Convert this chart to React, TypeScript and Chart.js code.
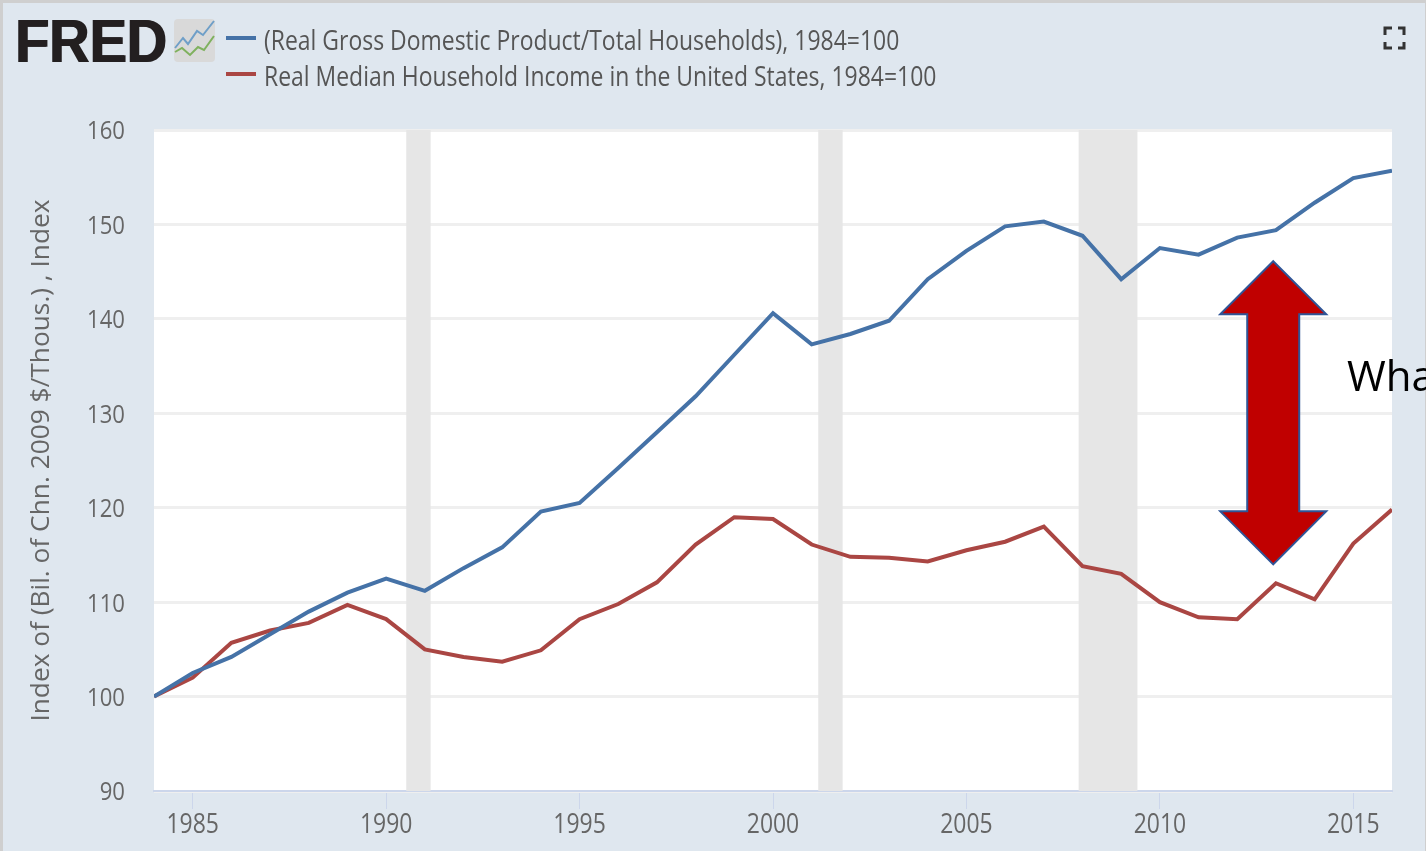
import React, { useEffect, useRef } from "react";
import { Chart, registerables } from "chart.js";

Chart.register(...registerables);

const years = [1984,1985,1986,1987,1988,1989,1990,1991,1992,1993,1994,1995,1996,1997,1998,1999,2000,2001,2002,2003,2004,2005,2006,2007,2008,2009,2010,2011,2012,2013,2014,2015,2016];
const gdpPerHousehold = [100,102.5,104.2,106.6,109,111,112.5,111.2,113.6,115.8,119.6,120.5,124.2,128,131.8,136.2,140.6,137.3,138.4,139.8,144.2,147.2,149.8,150.3,148.8,144.2,147.5,146.8,148.6,149.4,152.3,154.9,155.7];
const medianIncome = [100,102,105.7,107,107.8,109.7,108.2,105,104.2,103.7,104.9,108.2,109.8,112.1,116.1,119,118.8,116.1,114.8,114.7,114.3,115.5,116.4,118,113.8,113,110,108.4,108.2,112,110.3,116.2,119.8];
const recessions = [[1990.52,1991.15],[2001.17,2001.8],[2007.9,2009.42]];
const xTicks = [1985,1990,1995,2000,2005,2010,2015];
const seriesNames = ["(Real Gross Domestic Product/Total Households), 1984=100","Real Median Household Income in the United States, 1984=100"];
const seriesColors = ["#4572a7","#aa4643"];
const yAxisTitle = "Index of (Bil. of Chn. 2009 $/Thous.) , Index";
const arrowSpan = { x: 2012.93, top: 146.1, bottom: 114.0 };
const FONT = '"Open Sans", sans-serif';

export default function App() {
  const ref = useRef<HTMLCanvasElement>(null);
  const overlay = useRef<HTMLCanvasElement>(null);
  useEffect(() => {
    document.body.style.margin = "0";
    document.body.style.overflow = "hidden";
    const canvas = ref.current!;
    const base: any = canvas.getContext("2d")!;
    // The reference's horizontal text is narrower than any installed font: condense it about its anchor.
    let squeeze = 0.85;
    let lift = 2;
    const rawFill = base.fillText.bind(base);
    base.fillText = (t: string, x: number, y: number) => {
      const m = base.getTransform();
      if (Math.abs(m.b) > 0.01) {
        rawFill(t, x, y);
        return;
      }
      base.save();
      base.translate(x, y);
      base.scale(squeeze, 1);
      rawFill(t, 0, lift);
      base.restore();
    };
    const chrome = {
      id: "chrome",
      beforeDraw(chart: any) {
        const { ctx, chartArea: a, width, height } = chart;
        ctx.save();
        ctx.fillStyle = "#dfe7ef";
        ctx.fillRect(0, 0, width, height);
        ctx.fillStyle = "#cfcfcf";
        ctx.fillRect(0, 0, width, 3);
        ctx.fillRect(0, 0, 3, height);
        ctx.fillRect(width - 1, 0, 1, height);
        ctx.fillStyle = "#fff";
        ctx.fillRect(a.left, a.top, a.width, a.height);
        // logo
        ctx.fillStyle = "#231f20";
        ctx.font = 'bold 62px "Liberation Sans", sans-serif';
        ctx.textBaseline = "alphabetic";
        ctx.textAlign = "left";
        squeeze = 0.9;
        lift = 0;
        ctx.fillText("FRED", 14.5, 62);
        ctx.fillText("FRED", 16, 62);
        squeeze = 0.85;
        lift = 2;
        ctx.fillStyle = "#d9d9d9";
        ctx.beginPath();
        ctx.roundRect(174, 19, 41, 43, 4);
        ctx.fill();
        const spark = (pts: number[][], c: string) => {
          ctx.strokeStyle = c;
          ctx.lineWidth = 2;
          ctx.beginPath();
          pts.forEach((p, i) => (i ? ctx.lineTo(p[0], p[1]) : ctx.moveTo(p[0], p[1])));
          ctx.stroke();
        };
        spark([[175,48],[183,38],[188,44],[197,31],[203,35],[214,21]], "#6f9fc8");
        spark([[175,52],[182,48],[190,55],[198,47],[204,50],[214,36]], "#7fb15e");
        // legend
        ctx.font = `27px ${FONT}`;
        ctx.textBaseline = "middle";
        chart.data.datasets.forEach((d: any, i: number) => {
          const y = i === 0 ? 38 : 74;
          ctx.strokeStyle = d.borderColor;
          ctx.lineWidth = 4;
          ctx.beginPath();
          ctx.moveTo(226, y);
          ctx.lineTo(256, y);
          ctx.stroke();
          ctx.fillStyle = "#555";
          ctx.fillText(d.label, 264, y + 2);
        });
        // fullscreen icon
        ctx.strokeStyle = "#333";
        ctx.lineWidth = 3;
        const ic = [[1385,35,1385,28,1392,28],[1398,28,1404,28,1404,35],[1404,42,1404,48,1398,48],[1392,48,1385,48,1385,42]];
        ic.forEach((c) => {
          ctx.beginPath();
          ctx.moveTo(c[0], c[1]);
          ctx.lineTo(c[2], c[3]);
          ctx.lineTo(c[4], c[5]);
          ctx.stroke();
        });
        ctx.restore();
      },
      beforeDatasetsDraw(chart: any) {
        const { ctx, chartArea: a, scales } = chart;
        ctx.save();
        ctx.fillStyle = "#e6e6e6";
        recessions.forEach(([s, e]) => {
          const x0 = scales.x.getPixelForValue(s);
          const x1 = scales.x.getPixelForValue(e);
          ctx.fillRect(x0, a.top, x1 - x0, a.height);
        });
        ctx.restore();
      },
      afterDraw(chart: any) {
        const c = overlay.current;
        if (!c) return;
        const ctx = c.getContext("2d")!;
        ctx.clearRect(0, 0, c.width, c.height);
        const cx = chart.scales.x.getPixelForValue(arrowSpan.x);
        const top = chart.scales.y.getPixelForValue(arrowSpan.top);
        const bot = chart.scales.y.getPixelForValue(arrowSpan.bottom);
        const head = 53, hw = 53, sw = 26;
        ctx.beginPath();
        ctx.moveTo(cx, top);
        ctx.lineTo(cx + hw, top + head);
        ctx.lineTo(cx + sw, top + head);
        ctx.lineTo(cx + sw, bot - head);
        ctx.lineTo(cx + hw, bot - head);
        ctx.lineTo(cx, bot);
        ctx.lineTo(cx - hw, bot - head);
        ctx.lineTo(cx - sw, bot - head);
        ctx.lineTo(cx - sw, top + head);
        ctx.lineTo(cx - hw, top + head);
        ctx.closePath();
        ctx.fillStyle = "#c00000";
        ctx.fill();
        ctx.strokeStyle = "#2f5597";
        ctx.lineWidth = 2;
        ctx.stroke();
      },
    };
    const toPts = (v: number[]) => v.map((y, i) => ({ x: years[i], y }));
    const chart = new Chart(canvas, {
      type: "line",
      data: {
        datasets: [
          { label: seriesNames[0], data: toPts(gdpPerHousehold), borderColor: seriesColors[0], borderWidth: 4, pointRadius: 0, tension: 0 },
          { label: seriesNames[1], data: toPts(medianIncome), borderColor: seriesColors[1], borderWidth: 4, pointRadius: 0, tension: 0 },
        ],
      },
      options: {
        animation: false,
        responsive: false,
        layout: { padding: { top: 130, right: 34, left: 0, bottom: 0 } },
        plugins: { legend: { display: false }, tooltip: { enabled: false } },
        scales: {
          x: {
            type: "linear",
            min: 1984,
            max: 2016,
            afterBuildTicks(s: any) { s.ticks = xTicks.map((value) => ({ value })); },
            afterFit(s: any) { s.height = 60; },
            grid: { drawOnChartArea: false, drawTicks: true, tickLength: 18, tickColor: "#ccd6eb", tickWidth: 1 },
            border: { color: "#ccd6eb", width: 2 },
            ticks: { autoSkip: false, maxRotation: 0, padding: -2, color: "#666", font: { family: FONT, size: 27 }, callback: (v: any) => String(v) },
          },
          y: {
            min: 90,
            max: 160,
            afterFit(s: any) { s.width = 154; },
            grid: { color: "#efefef", lineWidth: 3, drawTicks: false },
            border: { display: false },
            ticks: { stepSize: 10, padding: 29, color: "#666", font: { family: FONT, size: 26 } },
            title: { display: true, text: yAxisTitle, color: "#666", font: { family: FONT, size: 26.3 }, padding: { top: 26, bottom: 0 } },
          },
        },
      },
      plugins: [chrome],
    } as any);
    return () => chart.destroy();
  }, []);
  return (
    <div style={{ position: "relative", width: 1426, height: 851, overflow: "hidden" }}>
      <canvas ref={ref} width={1426} height={851} style={{ position: "absolute", left: 0, top: 0, width: 1426, height: 851, filter: "blur(0.7px)" }} />
      <canvas ref={overlay} width={1426} height={851} style={{ position: "absolute", left: 0, top: 0 }} />
      <div style={{ position: "absolute", left: 1347, top: 347, font: '42px "Open Sans", sans-serif', color: "#000", whiteSpace: "nowrap", lineHeight: "56px" }}>What</div>
    </div>
  );
}
